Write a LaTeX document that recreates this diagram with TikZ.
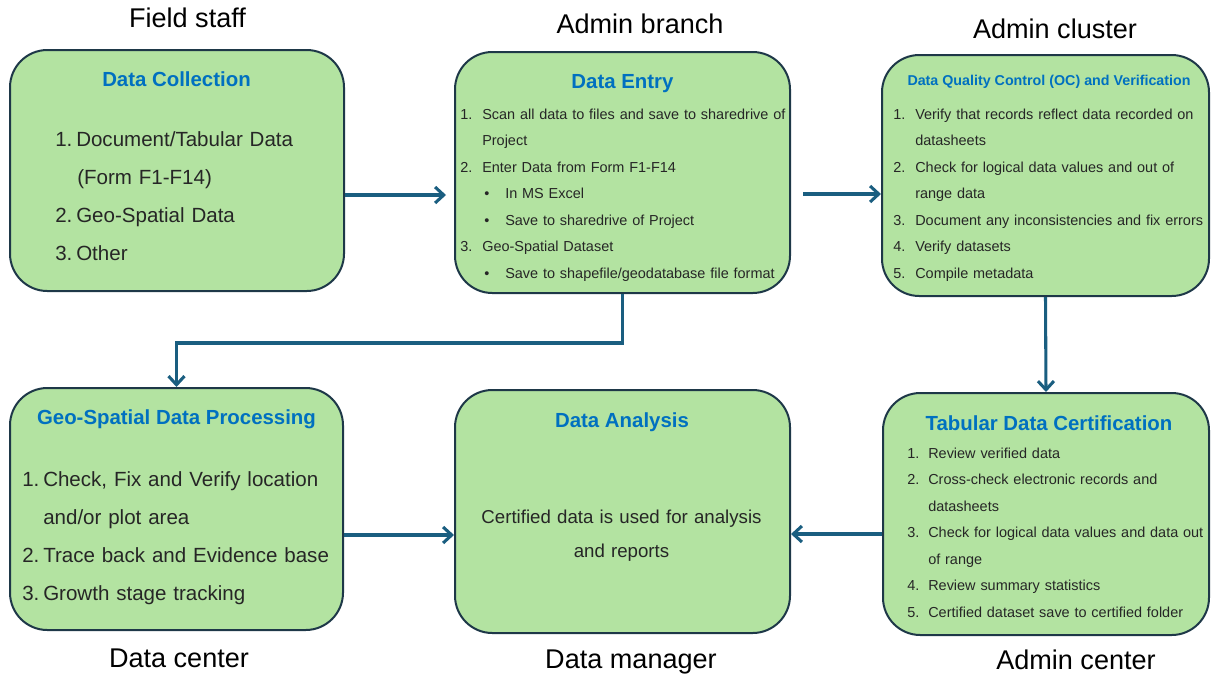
\documentclass[tikz,border=0pt]{standalone}
\usepackage{fontspec}
\setmainfont{Liberation Sans}
\usetikzlibrary{arrows.meta}
\definecolor{boxfill}{RGB}{179,227,161}
\definecolor{boxline}{RGB}{30,56,72}
\definecolor{arrowc}{RGB}{26,94,128}
\definecolor{titleblue}{RGB}{0,112,192}
\definecolor{bodytext}{RGB}{38,38,38}
\newcommand{\nb}[2]{\makebox[#1][l]{#2}}
\newcommand{\bul}{\hspace*{18pt}\nb{15.75pt}{\textbullet}}
\begin{document}
\begin{tikzpicture}[x=0.75pt,y=-0.75pt,
  procbox/.style={draw=boxline,fill=boxfill,line width=1.5pt,rounded corners=28pt,rectangle,inner sep=0pt},
  boxtitle/.style={anchor=base,inner sep=0pt,text=titleblue,font=\bfseries\fontsize{15.3pt}{18pt}\selectfont},
  smalltitle/.style={anchor=base,inner sep=0pt,text=titleblue,font=\bfseries\fontsize{10.7pt}{13pt}\selectfont},
  bigbody/.style={anchor=north west,inner sep=0pt,text width=300pt,align=left,text=bodytext,
     font=\fontsize{15.4pt}{28.5pt}\selectfont},
  smallbody/.style={anchor=north west,inner sep=0pt,text width=300pt,align=left,text=bodytext,
     font=\fontsize{10.85pt}{19.9pt}\selectfont},
  rolelabel/.style={anchor=base,inner sep=0pt,text=black,font=\fontsize{20.3pt}{24pt}\selectfont},
  flow/.style={draw=arrowc,line width=2.3pt,-{Straight Barb[length=6.5pt,width=12pt,line width=2.3pt]}}
]
\useasboundingbox (0,0) rectangle (1211,676);

% boxes
\node[procbox,minimum width=250.5pt,minimum height=180.75pt] (dc) at (177,170.5) {};
\node[procbox,minimum width=251.25pt,minimum height=180.75pt] (de) at (622.5,172.5) {};
\node[procbox,minimum width=245.25pt,minimum height=180.75pt] (dqc) at (1045.5,175.5) {};
\node[procbox,minimum width=249.75pt,minimum height=181.5pt] (geo) at (176.5,509) {};
\node[procbox,minimum width=251.25pt,minimum height=182.25pt] (da) at (622.5,511.5) {};
\node[procbox,minimum width=244.5pt,minimum height=181.5pt] (tab) at (1046,514) {};

% titles
\node[boxtitle] (dct) at (176.5,86) {Data Collection};
\node[boxtitle] (det) at (622.5,88) {Data Entry};
\node[smalltitle] (dqct) at (1049,85) {Data Quality Control (OC) and Verification};
\node[boxtitle] (geot) at (176.5,424) {Geo-Spatial Data Processing};
\node[boxtitle] (dat) at (622,427) {Data Analysis};
\node[boxtitle] (tabt) at (1049,430) {Tabular Data Certification};

% bodies
\node[bigbody] (dcb) at (55,125.5) {\rule{0pt}{1em}\nb{15.75pt}{1.}Document/Tabular Data\\
\hspace*{16.5pt}(Form F1-F14)\\
\nb{15.75pt}{2.}Geo-Spatial Data\\
\nb{15.75pt}{3.}Other};

\node[smallbody] (deb) at (460,104.3) {\rule{0pt}{1em}\nb{16.5pt}{1.}Scan all data to files and save to sharedrive of\\
\hspace*{16.5pt}Project\\
\nb{16.5pt}{2.}Enter Data from Form F1-F14\\
\bul In MS Excel\\
\bul Save to sharedrive of Project\\
\nb{16.5pt}{3.}Geo-Spatial Dataset\\
\bul Save to shapefile/geodatabase file format};

\node[smallbody] (dqcb) at (893,104.3) {\rule{0pt}{1em}\nb{16.5pt}{1.}Verify that records reflect data recorded on\\
\hspace*{16.5pt}datasheets\\
\nb{16.5pt}{2.}Check for logical data values and out of\\
\hspace*{16.5pt}range data\\
\nb{16.5pt}{3.}Document any inconsistencies and fix errors\\
\nb{16.5pt}{4.}Verify datasets\\
\nb{16.5pt}{5.}Compile metadata};

\node[bigbody] (geob) at (22,465.5) {\rule{0pt}{1em}\nb{15.75pt}{1.}Check, Fix and Verify location\\
\hspace*{15.75pt}and/or plot area\\
\nb{15.75pt}{2.}Trace back and Evidence base\\
\nb{15.75pt}{3.}Growth stage tracking};

\node[anchor=north,inner sep=0pt,text width=260pt,align=center,text=bodytext,
  font=\fontsize{14pt}{25.5pt}\selectfont] (dab) at (621.5,504.3)
  {\rule{0pt}{1em}Certified data is used for analysis\\and reports};

\node[smallbody] (tabb) at (907,443.3) {\rule{0pt}{1em}\nb{15.75pt}{1.}Review verified data\\
\nb{15.75pt}{2.}Cross-check electronic records and\\
\hspace*{15.75pt}datasheets\\
\nb{15.75pt}{3.}Check for logical data values and data out\\
\hspace*{15.75pt}of range\\
\nb{15.75pt}{4.}Review summary statistics\\
\nb{15.75pt}{5.}Certified dataset save to certified folder};

% role labels
\node[rolelabel] (l1) at (187.5,27.5) {Field staff};
\node[rolelabel] (l2) at (640,33.5) {Admin branch};
\node[rolelabel] (l3) at (1055,38.5) {Admin cluster};
\node[rolelabel] (l4) at (179,667) {Data center};
\node[rolelabel] (l5) at (631,668) {Data manager};
\node[rolelabel] (l6) at (1076,669.5) {Admin center};

% connectors
\coordinate (ya) at (0,195);
\coordinate (yb) at (0,194);
\coordinate (yc) at (0,535);
\coordinate (yd) at (0,534);
\draw[flow,shorten >=6pt] (dc.east |- ya) -- (de.west |- ya);
\draw[flow,shorten <=9pt] (de.east |- yb) -- (dqc.west |- yb);
\draw[flow] (de.south) -- ++(0,49) -| (geo.north);
\draw[flow] (dqc.south) -- (tab.north);
\draw[flow] (geo.east |- yc) -- (da.west |- yc);
\draw[flow] (tab.west |- yd) -- (da.east |- yd);
\end{tikzpicture}
\end{document}
